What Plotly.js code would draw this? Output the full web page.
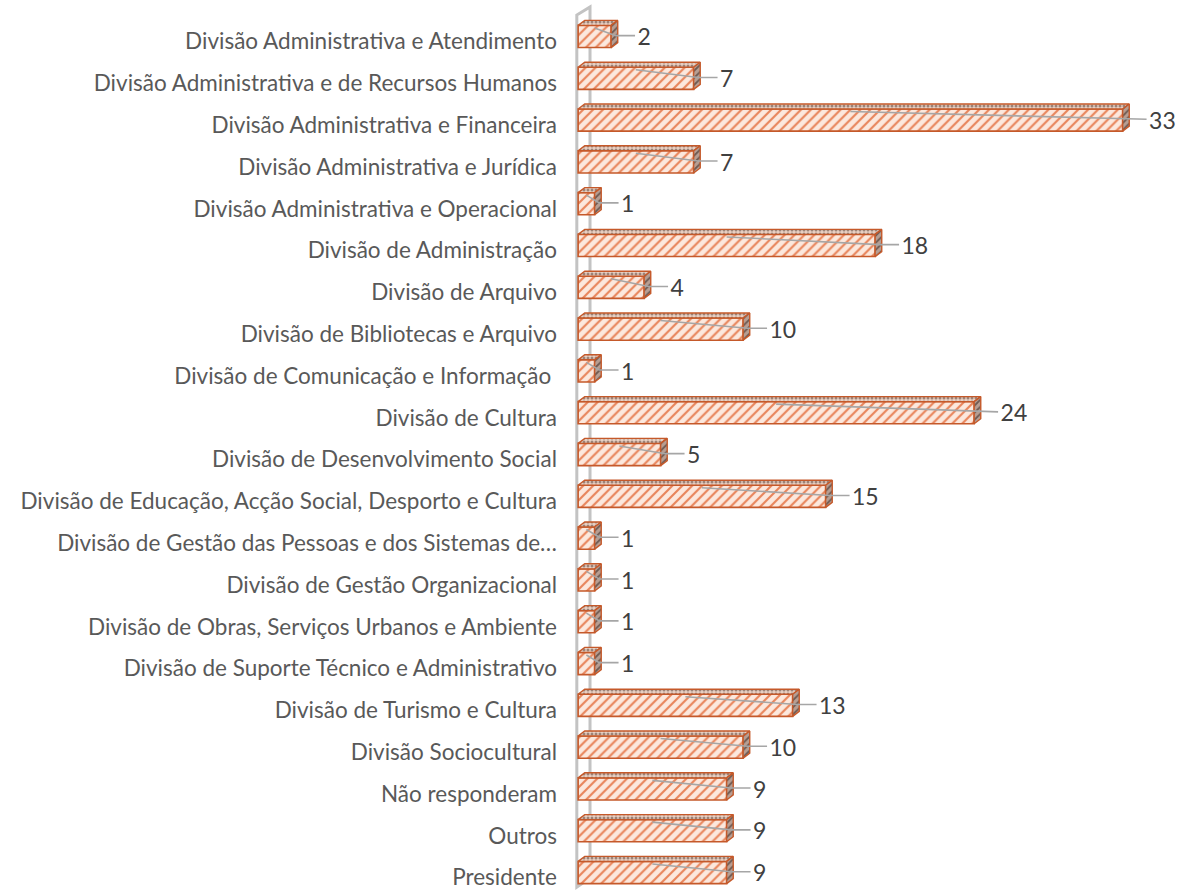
<!DOCTYPE html>
<html>
<head>
<meta charset="utf-8">
<script src="https://cdn.plot.ly/plotly-3.0.1.min.js"></script>
<style>html,body{margin:0;padding:0;background:#fff;}#chart{width:1188px;height:895px;}</style>
</head>
<body>
<div id="chart"></div>
<script>
const categories = [
  "Divisão Administrativa e Atendimento",
  "Divisão Administrativa e de Recursos Humanos",
  "Divisão Administrativa e Financeira",
  "Divisão Administrativa e Jurídica",
  "Divisão Administrativa e Operacional",
  "Divisão de Administração",
  "Divisão de Arquivo",
  "Divisão de Bibliotecas e Arquivo",
  "Divisão de Comunicação e Informação ",
  "Divisão de Cultura",
  "Divisão de Desenvolvimento Social",
  "Divisão de Educação, Acção Social, Desporto e Cultura",
  "Divisão de Gestão das Pessoas e dos Sistemas de…",
  "Divisão de Gestão Organizacional",
  "Divisão de Obras, Serviços Urbanos e Ambiente",
  "Divisão de Suporte Técnico e Administrativo",
  "Divisão de Turismo e Cultura",
  "Divisão Sociocultural",
  "Não responderam",
  "Outros",
  "Presidente"
];
const values = [2, 7, 33, 7, 1, 18, 4, 10, 1, 24, 5, 15, 1, 1, 1, 1, 13, 10, 9, 9, 9];

const idx = categories.map((_, i) => i);
const BAR_W = 0.53, DX = 0.40, DY = 0.12;
const RUST = '#C5592A';

const topX = [], topY = [], sideX = [], sideY = [], leadX = [], leadY = [];
values.forEach((v, i) => {
  const y0 = i - BAR_W / 2, y1 = i + BAR_W / 2;
  topX.push(0, v, v + DX, DX, 0, null);
  topY.push(y0, y0, y0 - DY, y0 - DY, y0, null);
  sideX.push(v, v + DX, v + DX, v, v, null);
  sideY.push(y0, y0 - DY, y1 - DY, y1, y0, null);
  leadX.push(v * 0.5, v + DX * 0.7, v + 1.45, null);
  leadY.push(y0 + 0.06, i - 0.02, i - 0.02, null);
});

const traces = [
  {
    type: 'bar', orientation: 'h', x: values, y: idx, width: BAR_W,
    marker: {
      color: '#FBE3D5',
      pattern: {shape: '/', fgcolor: '#E8845A', bgcolor: '#FCE8DD', size: 7, solidity: 0.3},
      line: {color: RUST, width: 1.6}
    },
    hoverinfo: 'skip', showlegend: false
  },
  {
    type: 'scatter', mode: 'lines', x: topX, y: topY, fill: 'toself',
    fillcolor: '#D9B8A8',
    fillpattern: {shape: '.', fgcolor: '#9C8377', bgcolor: '#E9D0C3', size: 4, solidity: 0.45},
    line: {color: RUST, width: 1.4}, hoverinfo: 'skip', showlegend: false
  },
  {
    type: 'scatter', mode: 'lines', x: sideX, y: sideY, fill: 'toself',
    fillcolor: '#A88E82',
    fillpattern: {shape: '/', fgcolor: '#6E5A52', bgcolor: '#B89E92', size: 5, solidity: 0.35},
    line: {color: RUST, width: 1.4}, hoverinfo: 'skip', showlegend: false
  },
  {
    type: 'scatter', mode: 'lines', x: leadX, y: leadY,
    line: {color: '#A6A6A6', width: 1.6}, hoverinfo: 'skip', showlegend: false
  },
  {
    type: 'scatter', mode: 'text', x: values.map(v => v + 1.6), y: idx.map(i => i + 0.07),
    text: values.map(String), textposition: 'middle right',
    textfont: {family: 'Lato, sans-serif', size: 23, color: '#404040'},
    cliponaxis: false, hoverinfo: 'skip', showlegend: false
  }
];

const n = categories.length;
const layout = {
  width: 1188, height: 895,
  margin: {l: 574, r: 0, t: 0, b: 0},
  paper_bgcolor: '#FFFFFF', plot_bgcolor: '#FFFFFF',
  xaxis: {range: [-0.25, 36.96], visible: false, fixedrange: true},
  yaxis: {
    range: [n - 1 + 0.538, -0.873], showgrid: false, zeroline: false, showline: false,
    tickmode: 'array', tickvals: idx.map(i => i + 0.12), ticktext: categories,
    ticks: '', ticklabelstandoff: 16,
    tickfont: {family: 'Lato, sans-serif', size: 22.5, color: '#595959'}
  },
  shapes: [{
    type: 'path', layer: 'below', xref: 'x', yref: 'y',
    path: `M -0.08 ${n - 1 + 0.35} L -0.08 -0.514 L 0.72 -0.706 L 0.72 ${n - 1 + 0.13} Z`,
    line: {color: '#C3C3C3', width: 3}, fillcolor: 'rgba(0,0,0,0)'
  }],
  showlegend: false
};

Plotly.newPlot('chart', traces, layout, {displayModeBar: false, staticPlot: true});
</script>
</body>
</html>
